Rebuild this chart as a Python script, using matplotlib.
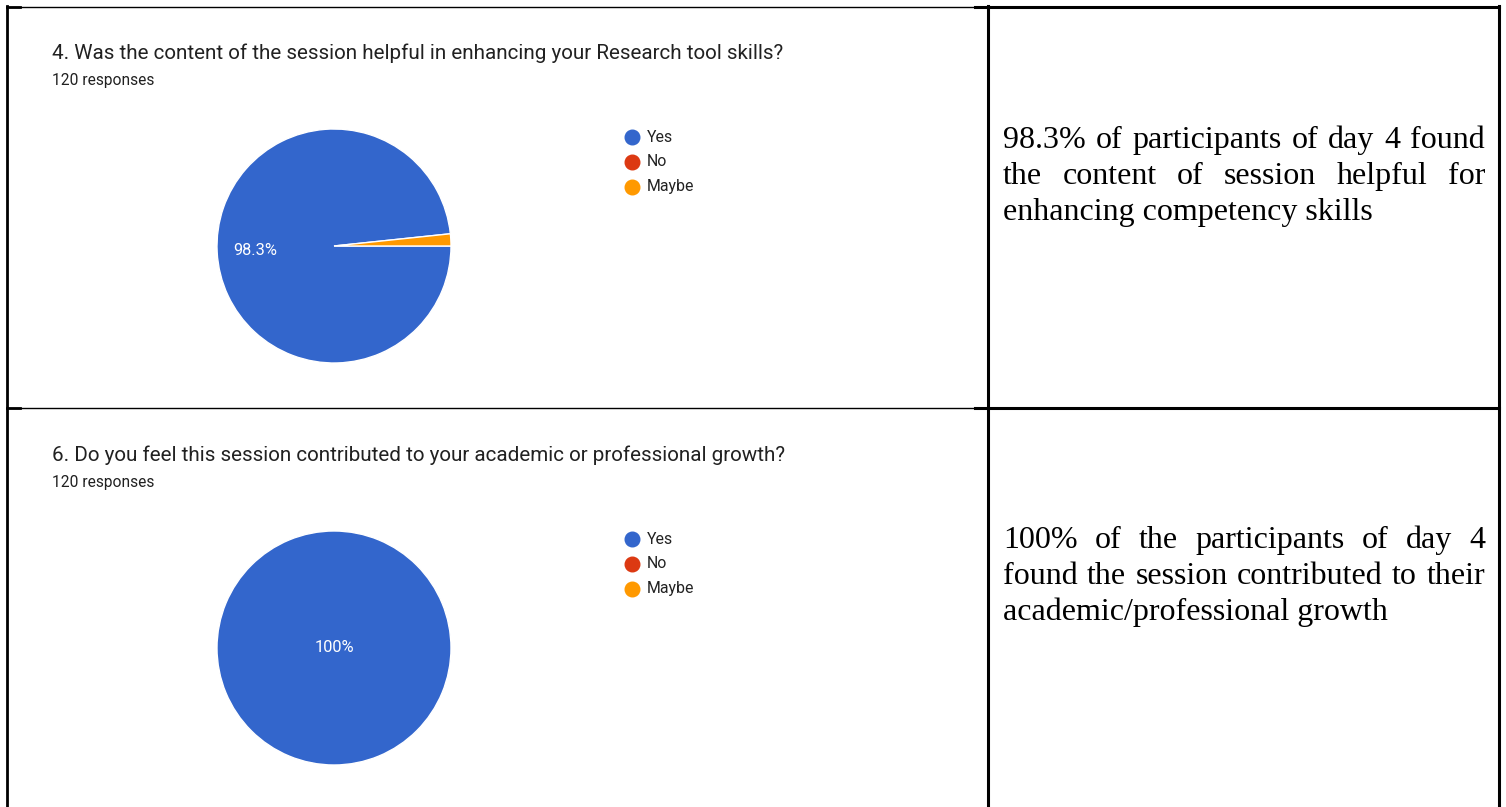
import matplotlib
matplotlib.use('Agg')
import matplotlib.pyplot as plt

# --- data ---
answers = ['Yes', 'No', 'Maybe']
answer_colors = ['#3366CC', '#DC3912', '#FF9900']

questions = [
    '4. Was the content of the session helpful in enhancing your Research tool skills?',
    '6. Do you feel this session contributed to your academic or professional growth?',
]
responses = [120, 120]
q4_counts = [118, 0, 2]
q6_counts = [120, 0, 0]

summary_q4 = ['98.3% of participants of day 4 found',
              'the content of session helpful for',
              'enhancing competency skills']
summary_q6 = ['100% of the participants of day 4',
              'found the session contributed to their',
              'academic/professional growth']

W, H = 1506, 807
fig = plt.figure(figsize=(W / 100, H / 100), dpi=100)
ax = fig.add_axes([0, 0, 1, 1])


def Y(y):
    # top-down pixel rows -> data y
    return H - y


def pct_label(p):
    if p < 5:
        return ''
    s = f'{p:.1f}'
    if s.endswith('.0'):
        s = s[:-2]
    return s + '%'


# --- table borders ---
ax.plot([7, 7], [Y(6), Y(807)], color='black', lw=2)
ax.plot([988, 988], [Y(6), Y(807)], color='black', lw=2.2)
ax.plot([1499, 1499], [Y(6), Y(807)], color='black', lw=2.2)
for yy in (6.5, 408):
    ax.plot([7, 975], [Y(yy), Y(yy)], color='black', lw=1)
    ax.plot([7, 20], [Y(yy), Y(yy)], color='black', lw=2)
    ax.plot([975, 1499], [Y(yy), Y(yy)], color='black', lw=2.2)

# --- google form style pies ---
blocks = [
    (questions[0], responses[0], q4_counts, 0, 0.67),
    (questions[1], responses[1], q6_counts, 402, 0.0),
]
for title, n, counts, dy, pdist in blocks:
    ax.text(52, Y(59 + dy), title, family='Roboto', fontsize=14.9,
            color='#212121', va='baseline')
    ax.text(52, Y(85 + dy), f'{n} responses', family='Roboto', fontsize=11.2,
            color='#212121', va='baseline')

    vals = [c for c in counts if c > 0]
    cols = [col for c, col in zip(counts, answer_colors) if c > 0]
    ax.pie(vals, colors=cols, startangle=0, counterclock=False,
           center=(334, Y(246 + dy)), radius=117, frame=True,
           autopct=pct_label, pctdistance=pdist,
           wedgeprops=dict(edgecolor='white', linewidth=1),
           textprops=dict(color='white', fontsize=11.8, family='Roboto'))

    for i, (lab, col) in enumerate(zip(answers, answer_colors)):
        ly = Y(137 + dy + i * 25)
        ax.plot(632, ly, 'o', ms=10.5, color=col, mec=col)
        ax.text(647, ly, lab, family='Roboto', fontsize=11.4,
                color='#222222', va='center')

# --- justified summary text ---
renderer = fig.canvas.get_renderer()
serif = dict(family='Liberation Serif', fontsize=23, color='black', va='baseline')


def justified(lines, x0, x1, y0, step):
    for i, line in enumerate(lines):
        y = Y(y0 + i * step)
        if i == len(lines) - 1:
            ax.text(x0, y, line, **serif)
            continue
        words = line.split()
        arts = [ax.text(0, y, w, **serif) for w in words]
        widths = [a.get_window_extent(renderer).width for a in arts]
        gap = (x1 - x0 - sum(widths)) / (len(words) - 1)
        x = x0
        for a, w in zip(arts, widths):
            a.set_x(x)
            x += w + gap


ax.set_xlim(0, W)
ax.set_ylim(0, H)
ax.axis('off')

justified(summary_q4, 1003, 1485, 148, 36)
justified(summary_q6, 1003, 1485, 548, 36)

fig.savefig('out.png', dpi=100, facecolor='white')
